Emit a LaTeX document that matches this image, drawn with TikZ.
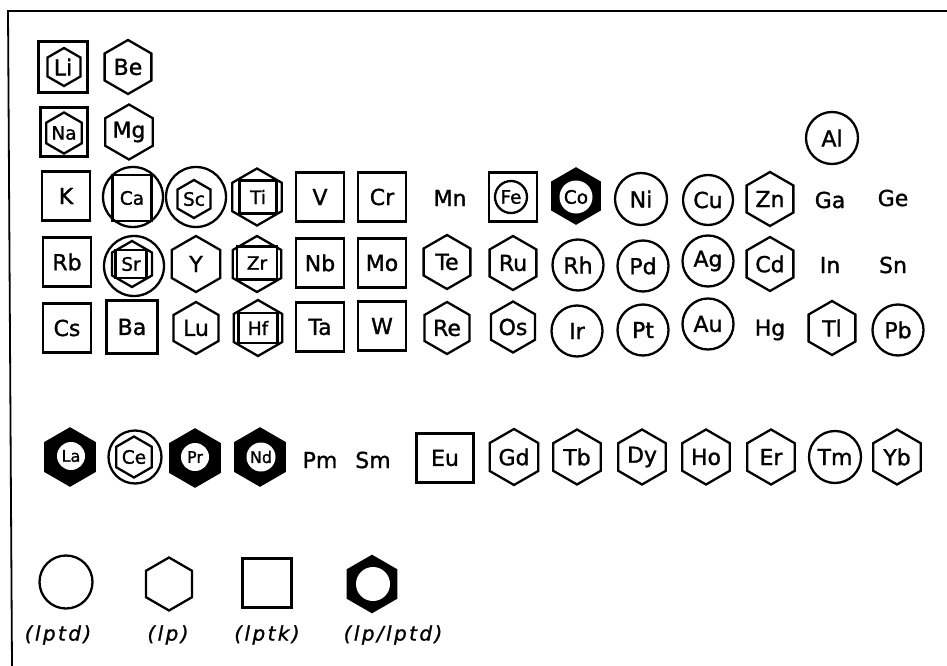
\documentclass[tikz,border=0pt]{standalone}
\usepackage{fontspec}
\usetikzlibrary{shapes.geometric}
\newfontfamily\elfont[FakeBold=1.3]{DejaVu Sans}
\newfontfamily\legfont[LetterSpace=12,FakeBold=1.3]{DejaVu Sans}
\begin{document}
\begin{tikzpicture}[x=1pt,y=-1pt,
  lw/.style={line width=2.3pt},
  big/.style={font=\elfont\fontsize{22}{22}\selectfont},
  small/.style={font=\elfont\fontsize{18.5}{18.5}\selectfont},
  tiny/.style={font=\elfont\fontsize{16}{16}\selectfont},
  sq/.style={draw, lw, rectangle, minimum width=48pt, minimum height=49pt, inner sep=0pt, big},
  hexs/.style={draw, lw, regular polygon, regular polygon sides=6, shape border rotate=30, minimum size=54pt, inner sep=0pt, big},
  circ/.style={draw, lw, circle, minimum size=51pt, inner sep=0pt, big},
  fhex/.style={hexs, fill=black},
  wdot/.style={circle, fill=white, inner sep=0pt},
  bare/.style={big, inner sep=0pt},
  leg/.style={font=\legfont\itshape\fontsize{20}{20}\selectfont, inner sep=0pt}
]
\useasboundingbox (0,0) rectangle (947,666);
% frame
\draw[line width=1.8pt] (947,11) -- (8,11) -- (12,666);

% ---- row 1
\node[sq, minimum width=49pt, minimum height=51pt] (li) at (63,67) {};
\node[hexs, minimum size=38pt] (li-h) at (64,67) {};
\node[big, inner sep=0pt] (li-t) at (63,67) {Li};
\node[hexs] (be) at (128,67) {Be};

% ---- row 2
\node[sq, minimum width=47pt, minimum height=49pt] (na) at (64,132) {};
\node[hexs, minimum size=37pt, small] (na-h) at (64,133) {Na};
\node[hexs, minimum size=55pt] (mg) at (129,132) {Mg};
\node[circ, minimum size=52pt] (al) at (832,138) {Al};

% ---- row 3
\node[sq] (k) at (66,196) {K};
\node[circ, minimum size=60pt] (ca) at (133,197) {};
\node[sq, minimum width=39pt, minimum height=46pt, small] (ca-s) at (132,198) {Ca};
\node[circ, minimum size=60pt] (sc) at (196,197) {};
\node[hexs, minimum size=38pt, small] (sc-h) at (194,199) {Sc};
\node[hexs, minimum size=57pt] (ti) at (257,197) {};
\node[sq, minimum width=37pt, minimum height=33pt, small] (ti-s) at (258,197) {Ti};
\node[sq] (v) at (320,197) {V};
\node[sq] (cr) at (382,197) {Cr};
\node[bare] (mn) at (450,198) {Mn};
\node[sq] (fe) at (513,197) {};
\node[circ, minimum size=32pt, small] (fe-c) at (511,197) {Fe};
\node[fhex, minimum size=55pt] (co) at (576,196) {};
\node[wdot, minimum size=33pt, small] (co-c) at (576,197) {Co};
\node[circ, minimum size=52pt] (ni) at (641,199) {Ni};
\node[circ, minimum size=50pt] (cu) at (708,200) {Cu};
\node[hexs] (zn) at (770,199) {Zn};
\node[bare] (ga) at (830,200) {Ga};
\node[bare] (ge) at (893,198) {Ge};

% ---- row 4
\node[sq] (rb) at (67,262) {Rb};
\node[circ, minimum size=60pt] (sr) at (134,266) {};
\node[hexs, minimum size=46pt] (sr-h) at (132,264) {};
\node[sq, minimum width=31pt, minimum height=28pt, small] (sr-s) at (131,264) {Sr};
\node[hexs, minimum size=56pt] (y) at (196,264) {Y};
\node[hexs, minimum size=56pt] (zr) at (257,264) {};
\node[sq, minimum width=40pt, minimum height=33pt, small] (zr-s) at (257,263) {Zr};
\node[sq] (nb) at (320,263) {Nb};
\node[sq] (mo) at (382,263) {Mo};
\node[hexs] (te) at (447,262) {Te};
\node[hexs] (ru) at (513,263) {Ru};
\node[circ] (rh) at (578,265) {Rh};
\node[circ] (pd) at (643,266) {Pd};
\node[circ] (ag) at (708,261) {Ag};
\node[hexs] (cd) at (770,264) {Cd};
\node[bare] (in) at (830,265) {In};
\node[bare] (sn) at (893,265) {Sn};

% ---- row 5
\node[sq] (cs) at (67,328) {Cs};
\node[sq, minimum width=51pt, minimum height=53pt] (ba) at (132,327) {Ba};
\node[hexs, minimum size=52pt] (lu) at (196,328) {Lu};
\node[hexs, minimum size=56pt] (hf) at (258,328) {};
\node[sq, minimum width=39pt, minimum height=30pt, small] (hf-s) at (258,328) {Hf};
\node[sq] (ta) at (320,327) {Ta};
\node[sq] (w) at (382,326) {W};
\node[hexs, minimum size=52pt] (re) at (447,328) {Re};
\node[hexs, minimum size=51pt] (os) at (513,327) {Os};
\node[circ] (ir) at (577,331) {Ir};
\node[circ] (pt) at (643,330) {Pt};
\node[circ] (au) at (708,324) {Au};
\node[bare] (hg) at (770,330) {Hg};
\node[hexs] (tl) at (832,328) {Tl};
\node[circ] (pb) at (898,330) {Pb};

% ---- lanthanides
\node[fhex, minimum size=57pt] (la) at (70,457) {};
\node[wdot, minimum size=28pt, tiny] (la-c) at (71,456) {La};
\node[circ, minimum size=53pt] (ce) at (135,457) {};
\node[hexs, minimum size=41pt, small] (ce-h) at (134,457) {Ce};
\node[fhex, minimum size=57pt] (pr) at (195,458) {};
\node[wdot, minimum size=28pt, tiny] (pr-c) at (195,457) {Pr};
\node[fhex, minimum size=57pt] (nd) at (260,457) {};
\node[wdot, minimum size=29pt, tiny] (nd-c) at (261,457) {Nd};
\node[bare] (pm) at (320,460) {Pm};
\node[bare] (sm) at (373,460) {Sm};
\node[sq, minimum width=57pt, minimum height=49pt] (eu) at (445,458) {Eu};
\node[hexs, minimum size=56pt] (gd) at (514,457) {Gd};
\node[hexs, minimum size=55pt] (tb) at (577,457) {Tb};
\node[hexs, minimum size=55pt] (dy) at (642,457) {Dy};
\node[hexs, minimum size=55pt] (ho) at (706,457) {Ho};
\node[hexs, minimum size=55pt] (er) at (771,457) {Er};
\node[circ, minimum size=52pt] (tm) at (835,457) {Tm};
\node[hexs, minimum size=55pt] (yb) at (897,457) {Yb};

% ---- legend
\node[circ, minimum size=53pt] (l1) at (66,582) {};
\node[hexs, minimum size=53pt] (l2) at (169,584) {};
\node[sq, minimum width=49pt, minimum height=49pt] (l3) at (267,583) {};
\node[fhex, minimum size=56pt] (l4) at (372,584) {};
\node[wdot, minimum size=34pt] (l4-c) at (373,584) {};
\node[leg] (t1) at (58,635) {(lptd)};
\node[leg] (t2) at (168,635) {(lp)};
\node[leg] (t3) at (267,635) {(lptk)};
\node[leg] (t4) at (393,635) {(lp/lptd)};
\end{tikzpicture}
\end{document}
